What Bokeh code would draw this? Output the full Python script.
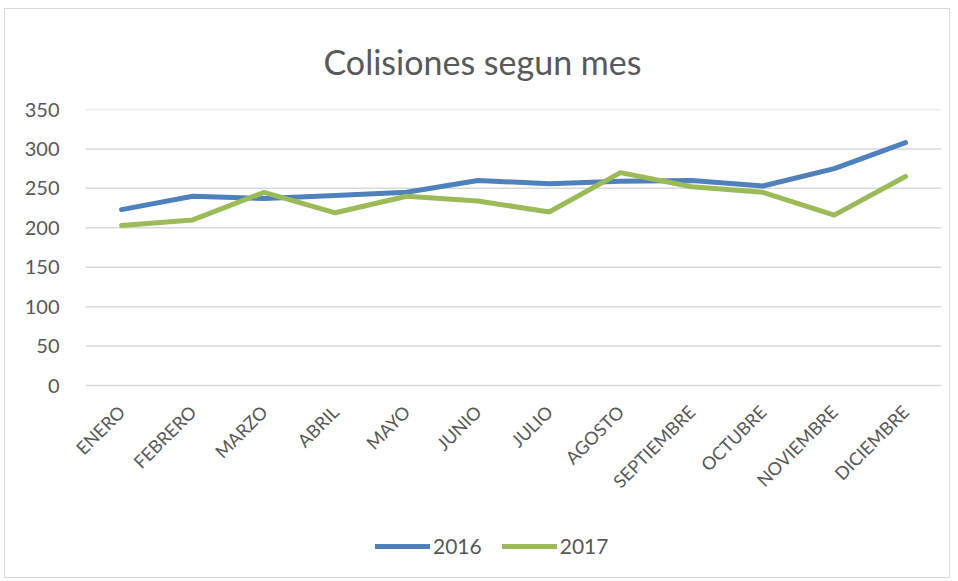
import math
from bokeh.plotting import figure
from bokeh.models import Legend, LegendItem, ColumnDataSource, Range1d, FixedTicker
from bokeh.embed import file_html
from bokeh.resources import INLINE

months = ["ENERO", "FEBRERO", "MARZO", "ABRIL", "MAYO", "JUNIO", "JULIO",
          "AGOSTO", "SEPTIEMBRE", "OCTUBRE", "NOVIEMBRE", "DICIEMBRE"]
y2016 = [223, 240, 237, 241, 245, 260, 256, 259, 260, 253, 275, 308]
y2017 = [203, 210, 245, 219, 240, 234, 220, 270, 252, 245, 216, 265]
y_ticks = [0, 50, 100, 150, 200, 250, 300, 350]

idx = list(range(len(months)))
src = ColumnDataSource(dict(x=idx, m=months, a=y2016, b=y2017))

FONT = "Lato"
GREY = "#595959"
GRID = "#d9d9d9"

Y_TOP = 350
Y_BOTTOM = -233.3   # room under the 0 line for month labels and legend

p = figure(x_range=Range1d(-0.786, len(months) - 0.495),
           y_range=(Y_BOTTOM, Y_TOP), width=946, height=570,
           output_backend="svg", toolbar_location=None,
           min_border_left=60, min_border_right=10, min_border_top=100,
           min_border_bottom=10)
p.styles = {"border": "1px solid #d9d9d9", "margin-left": "4px", "margin-top": "8px"}
p.outline_line_color = None

p.title.text = "Colisiones segun mes"
p.title.align = "left"
p.title.offset = 258
p.title.text_font = FONT
p.title.text_font_size = "34px"
p.title.text_font_style = "normal"
p.title.text_color = GREY
p.title.standoff = 55

# horizontal gridlines spanning the category band
gsrc = ColumnDataSource(dict(y=y_ticks, x0=[-0.5] * len(y_ticks),
                             x1=[len(months) - 0.5] * len(y_ticks)))
p.segment(x0="x0", x1="x1", y0="y", y1="y", source=gsrc,
          line_color=GRID, line_width=1.5)

r1 = p.line("x", "a", source=src, line_color="#4F81BD", line_width=5, line_cap="round")
r2 = p.line("x", "b", source=src, line_color="#9BBB59", line_width=5, line_cap="round")

p.xgrid.grid_line_color = None
p.ygrid.grid_line_color = None

for ax in p.yaxis:
    ax.ticker = FixedTicker(ticks=y_ticks)
    ax.axis_line_color = None
    ax.major_tick_line_color = None
    ax.minor_tick_line_color = None
    ax.major_label_text_font = FONT
    ax.major_label_text_font_size = "20px"
    ax.major_label_text_color = GREY
    ax.major_label_standoff = 0
for ax in p.xaxis:
    ax.ticker = FixedTicker(ticks=idx)
    ax.major_label_overrides = {i: m for i, m in zip(idx, months)}
    ax.fixed_location = 0
    ax.axis_line_color = None
    ax.major_tick_line_color = None
    ax.minor_tick_line_color = None
    ax.major_label_text_font = FONT
    ax.major_label_text_font_size = "18px"
    ax.major_label_text_color = GREY
    ax.major_label_orientation = math.pi / 4
    ax.major_label_standoff = 17

legend = Legend(items=[LegendItem(label="2016", renderers=[r1]),
                       LegendItem(label="2017", renderers=[r2])],
                orientation="horizontal", location=(310, 11),
                label_text_font=FONT, label_text_font_size="21px",
                label_text_color=GREY, glyph_width=55, glyph_height=20,
                spacing=20, label_standoff=3, padding=6,
                background_fill_alpha=0, border_line_color=None)
p.add_layout(legend, "center")

open("out.html", "w").write(file_html(p, INLINE))
